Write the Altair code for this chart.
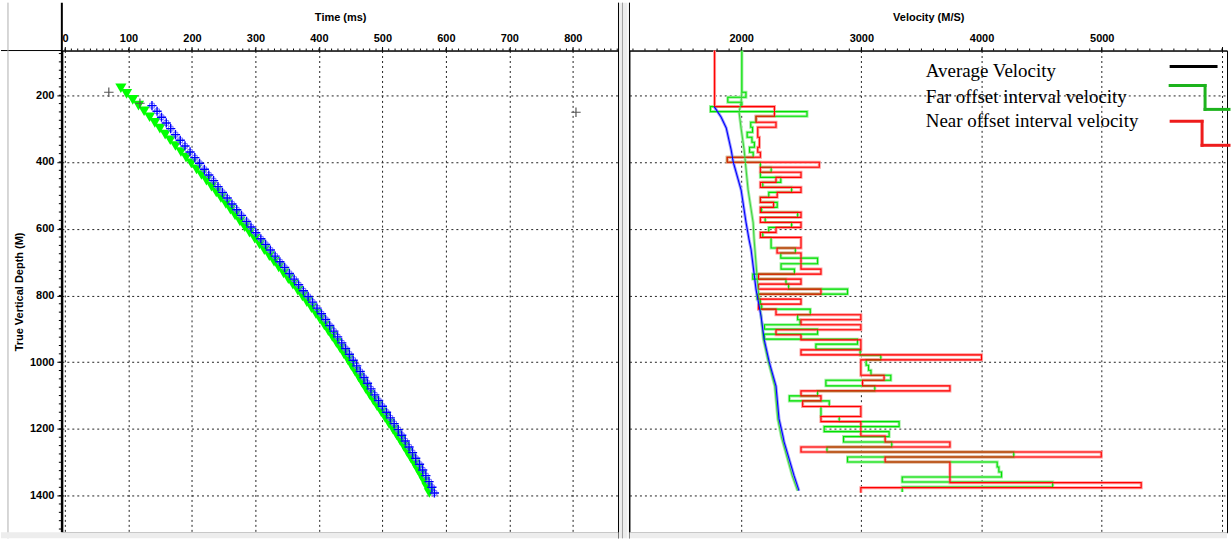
import altair as alt
import pandas as pd

# ---------------------------------------------------------------- layout
LEFT_W, RIGHT_W, PLOT_H = 558, 599, 483
HEADER = 48
DEPTH_DOMAIN = [66, 1510]
TIME_DOMAIN = [-5, 872]
VEL_DOMAIN = [1071, 6042]
SANS = "Liberation Sans"
SERIF = "Liberation Serif"

# ---------------------------------------------------------------- time-depth picks
depth_m = [179, 196, 214, 231, 248, 266, 283, 300, 318, 335, 352, 370, 387, 404, 422,
           439, 456, 474, 491, 508, 526, 543, 560, 578, 595, 612, 630, 647, 664, 682,
           699, 716, 734, 751, 768, 786, 803, 820, 838, 855, 872, 890, 907, 924, 942,
           959, 976, 994, 1011, 1028, 1046, 1063, 1080, 1098, 1115, 1132, 1150, 1167,
           1184, 1202, 1219, 1236, 1254, 1271, 1288, 1306, 1323, 1340, 1358, 1375, 1392]
far_time_ms = [88.0, 97.0, 106.7, 115.8, 124.6, 133.3, 141.5, 149.4, 157.8, 165.8, 174.0,
               182.6, 190.7, 198.9, 207.2, 215.0, 222.8, 230.8, 238.3, 245.6, 253.4, 260.6,
               267.9, 275.5, 283.1, 290.7, 298.9, 306.5, 314.0, 321.9, 329.3, 336.6, 344.4,
               351.8, 359.0, 366.8, 374.0, 381.0, 388.3, 395.3, 401.8, 408.6, 414.9, 421.1,
               427.6, 433.5, 439.4, 445.7, 451.3, 456.9, 462.8, 468.3, 473.7, 479.9, 485.8,
               491.7, 498.3, 504.3, 510.3, 516.8, 522.5, 528.2, 534.1, 539.5, 544.8, 550.6,
               555.6, 560.7, 565.8, 570.1, 574.0]
near_depth_m = depth_m[3:]
near_time_ms = [137.0, 145.0, 152.0, 159.5, 166.5, 174.0, 181.5, 189.0, 197.0, 204.5, 212.0,
                219.5, 226.5, 234.0, 241.0, 248.0, 255.5, 263.0, 270.5, 278.0, 286.0, 293.0,
                300.5, 308.5, 316.0, 323.5, 331.0, 338.5, 346.0, 353.5, 361.0, 368.0, 375.5,
                383.0, 390.0, 397.0, 404.0, 410.5, 417.0, 423.5, 429.5, 436.0, 442.0, 448.0,
                454.0, 459.5, 465.0, 471.0, 476.5, 482.0, 488.0, 494.0, 500.0, 506.5, 512.5,
                518.5, 525.0, 530.5, 536.0, 542.0, 547.5, 552.5, 558.5, 563.5, 568.5, 573.5,
                578.0, 582.0]
rejected_time_ms = [69, 118, 805]
rejected_depth_m = [191, 224, 251]

# ---------------------------------------------------------------- interval velocities
near_top = [66, 234, 263, 281, 296, 326, 356, 371, 386, 401, 416, 431, 446, 461, 476,
            491, 506, 521, 536, 551, 566, 581, 596, 611, 626, 658, 673, 721, 736, 751,
            766, 781, 796, 811, 826, 841, 858, 873, 888, 903, 918, 933, 963, 978, 993,
            1039, 1054, 1071, 1086, 1101, 1116, 1133, 1163, 1178, 1221, 1239, 1254, 1269,
            1284, 1299, 1361, 1376]
near_vel = [1779, 2277, 2124, 2290, 2138, 2152, 2138, 2160, 1884, 2650, 2160, 2498, 2290,
            2160, 2498, 2300, 2160, 2270, 2160, 2498, 2160, 2498, 2290, 2160, 2498, 2299,
            2498, 2664, 2144, 2498, 2144, 2664, 2144, 2498, 2144, 2290, 2996, 2498, 2996,
            2290, 2498, 2996, 2498, 4000, 2996, 3189, 3010, 3737, 2498, 2664, 2512, 2996,
            2664, 2996, 3198, 3737, 2498, 4996, 3198, 3737, 5328, 2996]
near_bottom = 1391

far_top = [66, 191, 206, 221, 234, 249, 263, 281, 296, 311, 326, 341, 356, 371, 386, 401,
           416, 431, 446, 461, 476, 491, 506, 521, 536, 551, 566, 581, 596, 611, 626, 658,
           673, 688, 705, 721, 736, 751, 766, 781, 796, 811, 826, 841, 858, 873, 888, 901,
           916, 931, 946, 961, 979, 993, 1009, 1024, 1039, 1054, 1071, 1086, 1101, 1116,
           1133, 1163, 1178, 1193, 1208, 1223, 1239, 1254, 1269, 1284, 1299, 1314, 1329,
           1344, 1359, 1374]
far_vel = [2006, 2040, 1889, 2006, 1745, 2548, 2124, 2080, 2095, 2050, 2090, 2110, 2070,
           2100, 1884, 2160, 2250, 2160, 2330, 2180, 2420, 2230, 2160, 2300, 2170, 2470,
           2200, 2420, 2230, 2180, 2249, 2451, 2330, 2636, 2332, 2443, 2097, 2373, 2395,
           2885, 2133, 2160, 2171, 2575, 2470, 2490, 2194, 2636, 2194, 2968, 2622, 2990,
           3162, 3040, 3060, 3080, 3245, 2705, 3112, 2636, 2401, 2733, 2664, 2816, 3314,
           2691, 3231, 2852, 3253, 2714, 4268, 2885, 4130, 4144, 4166, 3340, 4592, 3340]
far_bottom = 1389

# average velocity curves
near_avg_depth = [234, 266, 298, 364, 400, 484, 582, 633, 663, 782, 863, 931, 997, 1021,
                  1072, 1170, 1224, 1239, 1340, 1385]
near_avg_vel = [1776, 1834, 1876, 1917, 1934, 2000, 2041, 2066, 2083, 2124, 2166, 2191,
                2232, 2250, 2290, 2315, 2349, 2357, 2440, 2481]
far_avg_depth = [191, 220, 251, 300, 364, 484, 582, 633, 782, 863, 931, 997, 1072, 1170,
                 1224, 1340, 1385]
far_avg_vel = [2006, 2000, 1983, 2000, 2025, 2058, 2100, 2108, 2141, 2166, 2185, 2225,
               2280, 2305, 2335, 2425, 2470]

# axis tick values
time_ticks = [0, 100, 200, 300, 400, 500, 600, 700, 800]
vel_ticks = [2000, 3000, 4000, 5000, 6000]
depth_ticks = [200, 400, 600, 800, 1000, 1200, 1400]
time_minor = list(range(0, 871, 10))
vel_minor = list(range(1100, 6001, 100))
depth_minor = list(range(75, 1501, 25))

legend_labels = ["Average Velocity", "Far offset interval velocity",
                 "Near offset interval velocity"]


def step_vertices(tops, vels, bottom):
    ends = tops[1:] + [bottom]
    rows = []
    for i, (top, end, vel) in enumerate(zip(tops, ends, vels)):
        rows.append({"v": vel, "d": top, "seq": 2 * i})
        rows.append({"v": vel, "d": end, "seq": 2 * i + 1})
    return pd.DataFrame(rows)


one_row = pd.DataFrame({"k": [0]})

# ---------------------------------------------------------------- scales / axes
depth_scale = alt.Scale(domain=DEPTH_DOMAIN, reverse=True, nice=False, zero=False)
time_scale = alt.Scale(domain=TIME_DOMAIN, nice=False, zero=False)
vel_scale = alt.Scale(domain=VEL_DOMAIN, nice=False, zero=False)

grid_style = dict(grid=True, gridColor="#222222", gridDash=[2, 3], gridOpacity=1, gridWidth=1)
top_axis_style = dict(orient="top", labelFont=SANS, labelFontSize=11, labelFontWeight="bold",
                      labelColor="black", labelPadding=3, labelOverlap=False, labelFlush=False,
                      tickSize=4, tickColor="black", domainColor="black",
                      titleFont=SANS, titleFontSize=11, titleFontWeight="bold",
                      titleColor="black", titlePadding=10, **grid_style)

time_axis = alt.Axis(values=time_ticks, format="d", title="Time (ms)", **top_axis_style)
vel_axis = alt.Axis(values=vel_ticks, format="d", title="Velocity (M/S)",
                    labelExpr="datum.value == 6000 ? '' : datum.label", **top_axis_style)
depth_axis = alt.Axis(values=depth_ticks, format="d", title="True Vertical Depth (M)",
                      labelFont=SANS, labelFontSize=11, labelFontWeight="bold",
                      labelColor="black", labelPadding=3, tickSize=5, tickColor="black",
                      domainColor="black", domainWidth=2, titleFont=SANS, titleFontSize=11,
                      titleFontWeight="bold", titleColor="black", titlePadding=5, **grid_style)
depth_grid_only = alt.Axis(values=depth_ticks, labels=False, ticks=False, domain=False,
                           title=None, **grid_style)


def tx(field="t"):
    return alt.X(f"{field}:Q", scale=time_scale, axis=time_axis)


def vx(field="v"):
    return alt.X(f"{field}:Q", scale=vel_scale, axis=vel_axis)


def dy_left(field="d"):
    return alt.Y(f"{field}:Q", scale=depth_scale, axis=depth_axis)


def dy_right(field="d"):
    return alt.Y(f"{field}:Q", scale=depth_scale, axis=depth_grid_only)


def frame_rule(x, x2=None, y=None, y2=None, color="black", width=1):
    enc = {"x": alt.value(x)}
    if x2 is not None:
        enc["x2"] = alt.value(x2)
    if y is not None:
        enc["y"] = alt.value(y)
    if y2 is not None:
        enc["y2"] = alt.value(y2)
    return alt.Chart(one_row).mark_rule(color=color, strokeWidth=width).encode(**enc)


def glyph(x, y, color, x2=None, y2=None):
    enc = {"x": alt.value(x), "y": alt.value(y)}
    if x2 is not None:
        enc["x2"] = alt.value(x2)
    if y2 is not None:
        enc["y2"] = alt.value(y2)
    return alt.Chart(one_row).mark_rule(color=color, strokeWidth=3, strokeCap="square").encode(**enc)


# ---------------------------------------------------------------- left panel: time vs depth
far_df = pd.DataFrame({"t": far_time_ms, "d": depth_m})
near_df = pd.DataFrame({"t": near_time_ms, "d": near_depth_m})
rej_df = pd.DataFrame({"t": rejected_time_ms, "d": rejected_depth_m})

plus_path = "M-1,0L1,0M0,-1L0,1"

left_layers = [
    alt.Chart(far_df).mark_point(shape="triangle-down", filled=True, size=125,
                                 color="#00ff00", opacity=1).encode(x=tx(), y=dy_left()),
    alt.Chart(near_df).mark_point(shape="square", filled=False, size=22, color="#6f6fff",
                                  strokeWidth=1, opacity=1).encode(x=tx(), y=dy_left()),
    alt.Chart(near_df).mark_point(shape=plus_path, filled=False, size=85, color="#0000ff",
                                  strokeWidth=1.4, opacity=1).encode(x=tx(), y=dy_left()),
    alt.Chart(rej_df).mark_point(shape=plus_path, filled=False, size=90, color="#555555",
                                 strokeWidth=1.2, opacity=1).encode(x=tx(), y=dy_left()),
    alt.Chart(pd.DataFrame({"t": time_minor})).mark_rule(color="black", strokeWidth=1).encode(
        x=tx(), y=alt.value(-2), y2=alt.value(0)),
    alt.Chart(pd.DataFrame({"d": depth_minor})).mark_rule(color="black", strokeWidth=1).encode(
        y=dy_left(), x=alt.value(-3), x2=alt.value(0)),
    # header rule, window edge, left frame, gap between panels and the bottom strip
    frame_rule(-61, 0, y=0),
    frame_rule(-54, y=-HEADER, y2=PLOT_H + 6, color="#b0b0b0"),
    frame_rule(0, y=-HEADER, y2=PLOT_H, width=2),
    alt.Chart(one_row).mark_rect(color="#ededed").encode(
        x=alt.value(LEFT_W), x2=alt.value(LEFT_W + 9), y=alt.value(-HEADER),
        y2=alt.value(PLOT_H + 6)),
    frame_rule(LEFT_W, y=-HEADER, y2=PLOT_H + 6),
    frame_rule(LEFT_W + 4, y=-HEADER, y2=PLOT_H + 6, color="#a0a0a0"),
    alt.Chart(one_row).mark_rect(color="#ededed").encode(
        x=alt.value(-61), x2=alt.value(LEFT_W), y=alt.value(PLOT_H), y2=alt.value(PLOT_H + 6)),
]
left = alt.layer(*left_layers).properties(width=LEFT_W, height=PLOT_H)

# ---------------------------------------------------------------- right panel: velocities
far_steps = step_vertices(far_top, far_vel, far_bottom)
near_steps = step_vertices(near_top, near_vel, near_bottom)
near_avg_df = pd.DataFrame({"v": near_avg_vel, "d": near_avg_depth, "seq": range(len(near_avg_vel))})
far_avg_df = pd.DataFrame({"v": far_avg_vel, "d": far_avg_depth, "seq": range(len(far_avg_vel))})


def path(df, color, width):
    return alt.Chart(df).mark_line(color=color, strokeWidth=width, interpolate="linear",
                                   strokeJoin="miter").encode(
        x=vx(), y=dy_right(), order="seq:Q")


def legend_text(label, baseline_y):
    return alt.Chart(one_row).mark_text(align="left", baseline="alphabetic", font=SERIF,
                                        fontSize=19, color="black").encode(
        x=alt.value(297), y=alt.value(baseline_y), text=alt.value(label))


right_layers = [
    path(far_steps, "#9ef09e", 3),
    path(near_steps, "#ff9a9a", 3),
    path(far_avg_df, "#a8eea8", 3),
    path(near_avg_df, "#9c9cff", 3),
    path(far_steps, "#00e000", 1.1),
    path(near_steps, "#ff0000", 1.1),
    path(far_avg_df, "#3fd43f", 1.1),
    path(near_avg_df, "#0000ff", 1.1),
    alt.Chart(pd.DataFrame({"v": vel_minor})).mark_rule(color="black", strokeWidth=1).encode(
        x=vx(), y=alt.value(-2), y2=alt.value(0)),
    frame_rule(0, y=-HEADER, y2=PLOT_H + 6),
    alt.Chart(one_row).mark_rect(color="#ededed").encode(
        x=alt.value(0), x2=alt.value(RIGHT_W), y=alt.value(PLOT_H), y2=alt.value(PLOT_H + 6)),
    legend_text(legend_labels[0], 27),
    legend_text(legend_labels[1], 53),
    legend_text(legend_labels[2], 77),
    # legend glyphs
    glyph(543, 16, "black", x2=588),
    glyph(542, 35, "#1db31d", x2=577),
    glyph(577, 35, "#1db31d", y2=59),
    glyph(577, 59, "#1db31d", x2=601),
    glyph(543, 71, "#ee1c1c", x2=574),
    glyph(574, 71, "#ee1c1c", y2=95),
    glyph(574, 95, "#ee1c1c", x2=601),
]
right = alt.layer(*right_layers).properties(width=RIGHT_W, height=PLOT_H)

chart = (
    alt.hconcat(left, right, spacing=0)
    .properties(padding=0, background="white")
    .configure_view(stroke="black", strokeWidth=1)
)

chart.save("out.html", embed_options={"renderer": "svg", "actions": False})
